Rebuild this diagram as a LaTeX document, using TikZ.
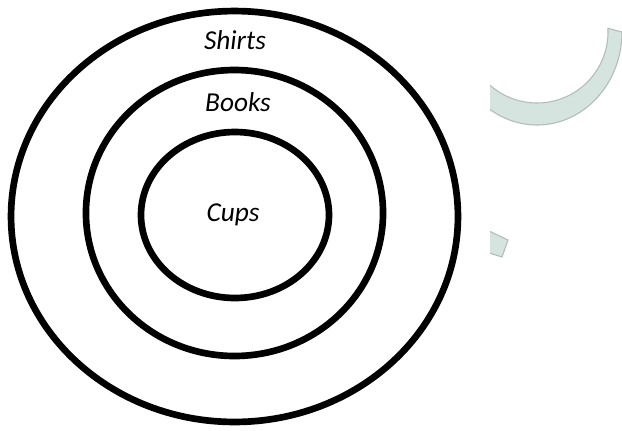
\documentclass[tikz,border=0pt]{standalone}
\usepackage{fontspec}
\setmainfont{Carlito}
\begin{document}
\begin{tikzpicture}[x=0.75pt,y=-0.75pt,
  ring/.style={draw=black,line width=5pt},
  lbl/.style={font=\itshape\fontsize{20.5}{24}\selectfont,inner sep=0pt},
  wm/.style={fill={rgb,255:red,213;green,228;blue,222},draw={rgb,255:red,178;green,188;blue,184},line width=0.8pt}]
\useasboundingbox (0,0) rectangle (622,430);
% watermark fragments
\begin{scope}
\clip (490,0) rectangle (622,430);
\path[wm] plot[domain=-3:145,samples=60,smooth] ({537+71*cos(\x)},{32+71*sin(\x)})
  -- plot[domain=145:0,samples=60,smooth] ({537+85*cos(\x)},{32+93*sin(\x)})
  -- cycle;
\path[wm] (470,222) -- (508,240) -- (502,257) -- (470,247) -- cycle;
\end{scope}
\coordinate (co) at (234.5,216.5);
\coordinate (cm) at (234.5,213);
\coordinate (ci) at (235,215);
\draw[ring] (co) ellipse[x radius=167.6pt,y radius=154.1pt];
\draw[ring] (cm) ellipse[x radius=111.4pt,y radius=107.25pt];
\draw[ring] (ci) ellipse[x radius=70.5pt,y radius=62.25pt];
\node[lbl] (shirts) at (235,40) {Shirts};
\node[lbl] (books) at (238,102) {Books};
\node[lbl] (cups) at (233,215) {Cups};
\end{tikzpicture}
\end{document}
